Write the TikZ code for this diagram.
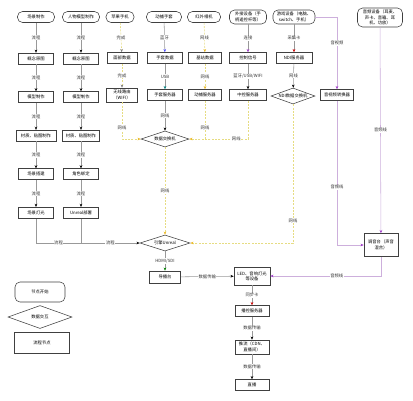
\documentclass[tikz,border=0pt]{standalone}
\usepackage{fontspec}
\newfontfamily\cjk{Noto Sans CJK SC}
\usetikzlibrary{shapes.geometric,arrows.meta,positioning}
\definecolor{netLine}{RGB}{230,220,130}
\definecolor{netTip}{RGB}{235,185,40}
\definecolor{avLine}{RGB}{205,175,220}
\definecolor{avTip}{RGB}{160,60,200}
\tikzset{
	base/.style={draw=black!75, line width=0.55pt, font=\cjk\fontsize{4.3}{5.3}\selectfont, align=center, inner sep=1pt},
	termbox/.style={base, rounded corners=5pt, minimum width=37pt, minimum height=11pt},
	procbox/.style={base, minimum width=35pt, minimum height=11pt},
	decbox/.style={base, diamond, aspect=3, minimum width=48pt, minimum height=16pt, inner sep=0pt},
	lbl/.style={fill=white, font=\cjk\fontsize{4.3}{5.3}\selectfont, inner sep=0.6pt, text=black!80},
	arrowc/.style={-{Stealth[length=3.2pt,width=2.6pt,color=#1]}},
	link/.style={draw=black!40, line width=0.55pt},
	flow/.style={link, arrowc=black},
	net/.style={draw=netLine, line width=0.55pt, dash pattern=on 2pt off 1.3pt, arrowc=netTip},
	av/.style={draw=avLine, line width=0.55pt, arrowc=avTip}
}
\begin{document}
\begin{tikzpicture}[x=1pt,y=-1pt,node distance=27pt]
	\useasboundingbox (0,0) rectangle (413,400);

	%%% first row, start nodes
	\node[termbox] (sceneStart) at (36,17) {场景制作};
	\node[termbox] (roleStart) at (81,17) {人物模型制作};
	\node[termbox,minimum width=28pt] (phoneStart) at (120,17) {苹果手机};
	\node[termbox,minimum width=35pt] (gloveStart) at (164,17) {动捕手套};
	\node[termbox,minimum width=33pt] (camStart) at (204,17) {红外相机};
	\node[termbox,minimum height=14pt] (extStart) at (248,17) {外接设备（手\\柄遥控杆等）};
	\node[termbox,minimum width=42pt,minimum height=14pt] (gameStart) at (294,17) {游戏设备（电脑、\\switch、手机）};
	\node[termbox,minimum width=45pt,minimum height=19pt] (audioStart) at (380,17.5) {音频设备（耳麦、\\声卡、音箱、耳\\机、功放）};

	%%% column one - scene
	\node[procbox,below=30pt of sceneStart] (sceneConcept) {概念原图};
	\node[procbox,below=of sceneConcept] (sceneModel) {模型制作};
	\node[procbox,below=of sceneModel,minimum width=40pt] (sceneTex) {材质、贴图制作};
	\node[procbox,below=of sceneTex] (sceneBuild) {场景搭建};
	\node[procbox,below=of sceneBuild] (sceneLight) {场景灯光};

	%%% column two - role
	\node[procbox,below=30pt of roleStart] (roleConcept) {概念原图};
	\node[procbox,below=of roleConcept] (roleModel) {模型制作};
	\node[procbox,below=of roleModel,minimum width=37pt] (roleTex) {材质、贴图制作};
	\node[procbox,below=of roleTex] (roleRig) {角色绑定};
	\node[procbox,below=of roleRig] (unrealDeploy) {Unreal部署};

	%%% capture columns
	\node[procbox,minimum width=30pt] (faceData) at (122,58) {面部数据};
	\node[procbox,minimum width=31pt,minimum height=14pt] (wifiRouter) at (122,95) {无线路由\\（WIFI）};
	\node[procbox] (gloveData) at (165,58) {手套数据};
	\node[procbox] (gloveServer) at (165,95) {手套服务器};
	\node[procbox,minimum width=33pt] (baseData) at (205,58) {基站数据};
	\node[procbox,minimum width=33pt] (mocapServer) at (205,95) {动捕服务器};
	\node[procbox,minimum width=37pt] (ctrlSignal) at (248,58) {控制信号};
	\node[procbox,minimum width=37pt] (ctrlServer) at (248,95) {中控服务器};
	\node[procbox,minimum width=36pt] (ndiServer) at (294,58) {NDI服务器};
	\node[decbox,minimum width=44pt] (ndiSwitch) at (293,96) {NDI数据交换机};
	\node[procbox,minimum width=33pt] (avConvert) at (337,95) {音视频转换器};

	%%% switch, engine, output
	\node[decbox] (dataSwitch) at (165,139) {数据交换机};
	\node[decbox,minimum width=50pt] (unreal) at (165,243) {引擎Unreal};
	\node[procbox,minimum width=34pt,minimum height=23pt] (mixer) at (381,245) {调音台（声音\\混合）};
	\node[procbox,minimum width=31pt,minimum height=12pt] (director) at (165,277) {导播台};
	\node[procbox,minimum width=36pt,minimum height=18pt] (led) at (252,276) {LED、音响灯光\\等设备};
	\node[procbox,minimum width=34pt] (playServer) at (252,311) {播控服务器};
	\node[procbox,minimum width=34pt,minimum height=14pt] (pushStream) at (252,347) {推流（CDN、\\直播间）};
	\node[procbox,minimum width=34pt] (live) at (252,385) {直播};

	%%% legend
	\node[termbox,minimum width=50pt,minimum height=20pt] (legStart) at (40,292) {节点开始};
	\node[decbox,minimum width=64pt,minimum height=23pt] (legData) at (40,317) {数据交互};
	\node[procbox,minimum width=55pt,minimum height=21pt] (legProc) at (42,343) {流程节点};

	% column one and two flows
	\draw[flow] (sceneStart) -- node[lbl]{流程} (sceneConcept);
	\draw[flow] (sceneConcept) -- node[lbl]{流程} (sceneModel);
	\draw[flow] (sceneModel) -- node[lbl]{流程} (sceneTex);
	\draw[flow] (sceneTex) -- node[lbl]{流程} (sceneBuild);
	\draw[flow] (sceneBuild) -- node[lbl]{流程} (sceneLight);
	\draw[flow] (roleStart) -- node[lbl]{流程} (roleConcept);
	\draw[flow] (roleConcept) -- node[lbl]{流程} (roleModel);
	\draw[flow] (roleModel) -- node[lbl]{流程} (roleTex);
	\draw[flow] (roleTex) -- node[lbl]{流程} (roleRig);
	\draw[flow] (roleRig) -- node[lbl]{流程} (unrealDeploy);
	\draw[link] (sceneLight) -- (sceneLight |- unreal) -- node[lbl]{流程} (unrealDeploy |- unreal);
	\draw[flow] (unrealDeploy) |- node[lbl,pos=0.75]{流程} (unreal);

	% capture devices
	\draw[net,arrowc=black!50] (phoneStart) -- node[lbl]{完成} (faceData);
	\draw[net,arrowc=black!50] (faceData) -- node[lbl]{完成} (wifiRouter);
	\draw[net] (wifiRouter) |- node[lbl,pos=0.35]{网线} (dataSwitch);
	\draw[flow,arrowc=blue!70] (gloveStart) -- node[lbl]{蓝牙} (gloveData);
	\draw[flow,arrowc=teal] (gloveData) -- node[lbl]{USB} (gloveServer);
	\draw[flow] (gloveServer) -- node[lbl]{网线} (dataSwitch);
	\draw[net] (camStart) -- node[lbl]{网线} (baseData);
	\draw[net] (baseData) -- node[lbl]{网线} (mocapServer);
	\draw[net,-] (mocapServer) -- node[lbl,pos=0.7]{网线} (mocapServer |- dataSwitch);
	\draw[flow,arrowc=avTip] (extStart) -- node[lbl]{连接} (ctrlSignal);
	\draw[flow] (ctrlSignal) -- node[lbl]{蓝牙/USB/WIFI} (ctrlServer);
	\draw[net] (ctrlServer) |- node[lbl,pos=0.6]{网线} (dataSwitch);
	\draw[flow,arrowc=red!80!black] (gameStart) -- node[lbl]{采集卡} (ndiServer);
	\draw[flow] (ndiServer) -- node[lbl]{网线} (ndiSwitch);

	% into the engine
	\draw[net] (dataSwitch) -- node[lbl]{网线} (unreal);
	\draw[net] (ndiSwitch) |- node[lbl,pos=0.42]{网线} (unreal);

	% audio
	\draw[av] (gameStart) -| node[lbl,pos=0.68]{音视频} (avConvert);
	\draw[av] (avConvert) |- node[lbl,pos=0.3]{音频线} (mixer);
	\draw[av] (audioStart) -- node[lbl]{音频线} (mixer);
	\draw[av] (mixer) |- node[lbl,pos=0.7]{音频线} (led);

	% output
	\draw[flow,arrowc=green!50!black] (unreal) -- node[lbl]{HDMI/SDI} (director);
	\draw[flow] (director) -- node[lbl]{数据传输} (led);
	\draw[flow,arrowc=red!80!black] (led) -- node[lbl]{同步卡} (playServer);
	\draw[flow] (playServer) -- node[lbl]{数据传输} (pushStream);
	\draw[flow] (pushStream) -- node[lbl]{数据传输} (live);
\end{tikzpicture}
\end{document}
